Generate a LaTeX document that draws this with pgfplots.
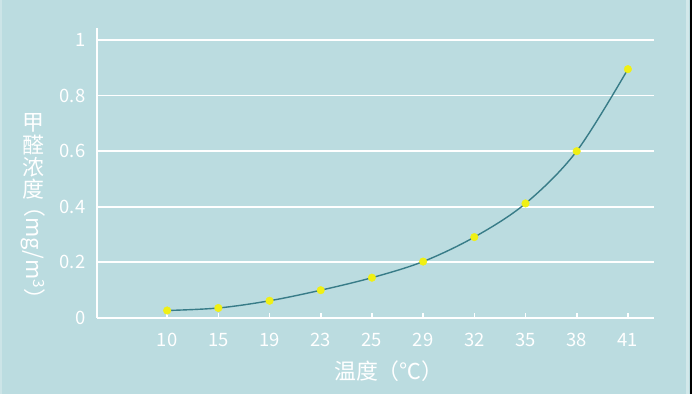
\documentclass[border=0pt]{standalone}
\usepackage{pgfplots}
\pgfplotsset{compat=1.18}
\usepackage{fontspec}
\setmainfont{Noto Sans CJK SC}
\definecolor{panel}{RGB}{187,220,224}
\definecolor{curve}{RGB}{56,124,136}
\definecolor{dot}{RGB}{240,240,20}

% formaldehyde concentration (mg/m^3) against temperature
\pgfplotstableread{
idx temp conc
0 10 0.027
1 15 0.036
2 19 0.062
3 23 0.100
4 25 0.145
5 29 0.203
6 32 0.291
7 35 0.412
8 38 0.600
9 41 0.895
}\formaldehyde

\begin{document}
\begin{tikzpicture}[x=1bp,y=1bp]
\fill[panel] (0,0) rectangle (692,394);
\fill[white,opacity=0.25] (0,0) rectangle (1.5,394);
\fill[white,opacity=0.35] (685.5,0) rectangle (688.5,394);
\fill[black] (689.5,0) rectangle (692,394);
\useasboundingbox (0,0) rectangle (692,394);
\begin{axis}[
  at={(97bp,76bp)}, anchor=south west,
  scale only axis, width=557bp, height=290bp,
  xmin=-1.37, xmax=9.51, ymin=0, ymax=1.043,
  axis x line=bottom, axis y line=left,
  axis line style={white, line width=1.6bp, -},
  xtick={0,...,9},
  xticklabels={10,15,19,23,25,29,32,35,38,41},
  ytick={0,0.2,0.4,0.6,0.8,1},
  yticklabels={0,0.2,0.4,0.6,0.8,1},
  x tick style={white, line width=1.6bp},
  major tick length=5bp,
  xtick align=inside,
  y tick style={draw=none},
  ymajorgrids, grid style={white, line width=1.8bp},
  tick label style={white, inner sep=0pt, font=\fontsize{18.5}{18.5}\selectfont},
  xticklabel style={anchor=center, yshift=-22bp},
  yticklabel style={anchor=east, xshift=-9bp},
  xlabel={温度（℃）},
  xlabel style={white, font=\fontsize{22}{22}\selectfont,
    at={(axis description cs:0.524,0)}, anchor=center, yshift=-53bp},
  clip=false,
]
\addplot[curve, line width=1.4bp, smooth, tension=0.55] table[x=idx, y=conc] {\formaldehyde};
\addplot[only marks, mark=*, mark size=3.8bp, mark options={fill=dot, draw=dot}] table[x=idx, y=conc] {\formaldehyde};
\end{axis}
% vertical y-axis title: upright characters, then the unit turned sideways
\begin{scope}[every node/.style={white, inner sep=0pt, font=\fontsize{22}{22}\selectfont}]
\node at (33,271) {甲};
\node at (33,249) {醛};
\node at (33,227) {浓};
\node at (33,205) {度};
\node[rotate=-90] at (33,141) {（mg/m\textsuperscript{3}）};
\end{scope}
\end{tikzpicture}
\end{document}
